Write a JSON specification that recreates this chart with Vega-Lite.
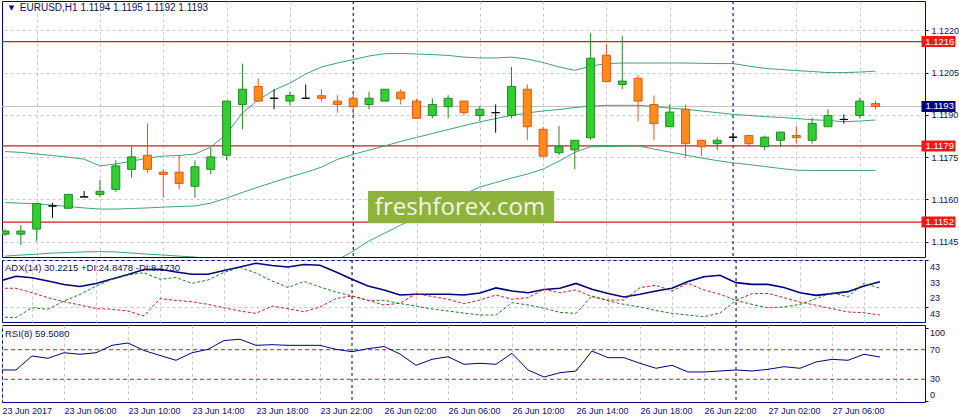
{
  "$schema": "https://vega.github.io/schema/vega-lite/v6.json",
  "padding": 0,
  "autosize": {"type": "pad"},
  "bounds": "flush",
  "spacing": 3,
  "background": "white",
  "config": {
    "view": {"stroke": "#000080", "strokeWidth": 1, "fill": "white"},
    "axis": {"labelFont": "Liberation Sans", "labelFontSize": 9, "labelColor": "#10105a", "domain": false, "tickColor": "#000080", "gridColor": "#c8c8c8", "gridDash": [3, 3], "gridWidth": 1, "title": null},
    "text": {"font": "Liberation Sans"}
  },
  "resolve": {"scale": {"x": "independent", "y": "independent"}},
  "datasets": {
    "bars": [
      {"i":0,"t":"23 Jun 02:00","o":1.11477,"h":1.11495,"l":1.11470,"c":1.11488,"bu":1.11770,"bm":1.11589,"bl":1.11399,"adx":29.8,"pdi":6.5,"mdi":25.1,"rsi":42.6},
      {"i":1,"t":"23 Jun 03:00","o":1.11477,"h":1.11509,"l":1.11438,"c":1.11488,"bu":1.11767,"bm":1.11587,"bl":1.11403,"adx":32.8,"pdi":6.2,"mdi":25.1,"rsi":42.6},
      {"i":2,"t":"23 Jun 04:00","o":1.11495,"h":1.11588,"l":1.11452,"c":1.11586,"bu":1.11761,"bm":1.11584,"bl":1.11406,"adx":31.9,"pdi":12.5,"mdi":22.2,"rsi":61.5},
      {"i":3,"t":"23 Jun 05:00","o":1.11577,"h":1.11588,"l":1.11535,"c":1.11577,"bu":1.11756,"bm":1.11580,"bl":1.11410,"adx":29.8,"pdi":11.5,"mdi":19.0,"rsi":58.4},
      {"i":4,"t":"23 Jun 06:00","o":1.11569,"h":1.11620,"l":1.11566,"c":1.11618,"bu":1.11750,"bm":1.11575,"bl":1.11412,"adx":27.5,"pdi":16.9,"mdi":16.4,"rsi":65.9},
      {"i":5,"t":"23 Jun 07:00","o":1.11609,"h":1.11630,"l":1.11609,"c":1.11609,"bu":1.11743,"bm":1.11570,"bl":1.11414,"adx":26.2,"pdi":21.1,"mdi":14.3,"rsi":63.8},
      {"i":6,"t":"23 Jun 08:00","o":1.11618,"h":1.11669,"l":1.11609,"c":1.11629,"bu":1.11719,"bm":1.11566,"bl":1.11415,"adx":28.2,"pdi":26.5,"mdi":12.0,"rsi":65.9},
      {"i":7,"t":"23 Jun 09:00","o":1.11636,"h":1.11739,"l":1.11627,"c":1.11719,"bu":1.11726,"bm":1.11566,"bl":1.11414,"adx":31.1,"pdi":30.9,"mdi":11.5,"rsi":75.9},
      {"i":8,"t":"23 Jun 10:00","o":1.11707,"h":1.11787,"l":1.11677,"c":1.11751,"bu":1.11736,"bm":1.11568,"bl":1.11410,"adx":34.0,"pdi":33.6,"mdi":10.4,"rsi":79.1},
      {"i":9,"t":"23 Jun 11:00","o":1.11757,"h":1.11870,"l":1.11695,"c":1.11707,"bu":1.11747,"bm":1.11570,"bl":1.11406,"adx":37.2,"pdi":35.1,"mdi":7.2,"rsi":68.9},
      {"i":10,"t":"23 Jun 12:00","o":1.11697,"h":1.11709,"l":1.11606,"c":1.11689,"bu":1.11754,"bm":1.11573,"bl":1.11403,"adx":37.3,"pdi":30.9,"mdi":18.4,"rsi":62.2},
      {"i":11,"t":"23 Jun 13:00","o":1.11697,"h":1.11758,"l":1.11636,"c":1.11657,"bu":1.11756,"bm":1.11575,"bl":1.11399,"adx":35.6,"pdi":32.0,"mdi":17.2,"rsi":55.7},
      {"i":12,"t":"23 Jun 14:00","o":1.11647,"h":1.11739,"l":1.11606,"c":1.11716,"bu":1.11761,"bm":1.11577,"bl":1.11396,"adx":34.1,"pdi":28.3,"mdi":16.4,"rsi":65.9},
      {"i":13,"t":"23 Jun 15:00","o":1.11707,"h":1.11784,"l":1.11689,"c":1.11751,"bu":1.11786,"bm":1.11587,"bl":1.11389,"adx":34.1,"pdi":30.4,"mdi":14.7,"rsi":70.5},
      {"i":14,"t":"23 Jun 16:00","o":1.11757,"h":1.11949,"l":1.11739,"c":1.11949,"bu":1.11832,"bm":1.11605,"bl":1.11378,"adx":36.5,"pdi":35.3,"mdi":12.5,"rsi":82.4},
      {"i":15,"t":"23 Jun 17:00","o":1.11937,"h":1.12082,"l":1.11849,"c":1.11991,"bu":1.11907,"bm":1.11625,"bl":1.11353,"adx":38.8,"pdi":38.5,"mdi":10.4,"rsi":84.1},
      {"i":16,"t":"23 Jun 18:00","o":1.12001,"h":1.12030,"l":1.11946,"c":1.11949,"bu":1.11953,"bm":1.11644,"bl":1.11339,"adx":41.2,"pdi":34.9,"mdi":8.9,"rsi":75.9},
      {"i":17,"t":"23 Jun 19:00","o":1.11959,"h":1.11991,"l":1.11920,"c":1.11959,"bu":1.11988,"bm":1.11662,"bl":1.11335,"adx":39.8,"pdi":29.8,"mdi":13.6,"rsi":76.8},
      {"i":18,"t":"23 Jun 20:00","o":1.11949,"h":1.11982,"l":1.11935,"c":1.11969,"bu":1.12013,"bm":1.11680,"bl":1.11339,"adx":38.8,"pdi":25.6,"mdi":11.9,"rsi":75.9},
      {"i":19,"t":"23 Jun 21:00","o":1.11959,"h":1.12008,"l":1.11959,"c":1.11959,"bu":1.12045,"bm":1.11696,"bl":1.11346,"adx":40.4,"pdi":29.5,"mdi":10.0,"rsi":75.9},
      {"i":20,"t":"23 Jun 22:00","o":1.11968,"h":1.11991,"l":1.11949,"c":1.11959,"bu":1.12070,"bm":1.11715,"bl":1.11360,"adx":39.9,"pdi":25.9,"mdi":13.0,"rsi":75.9},
      {"i":21,"t":"23 Jun 23:00","o":1.11949,"h":1.11970,"l":1.11908,"c":1.11937,"bu":1.12084,"bm":1.11742,"bl":1.11385,"adx":35.6,"pdi":22.7,"mdi":18.5,"rsi":70.5},
      {"i":22,"t":"26 Jun 00:00","o":1.11959,"h":1.11982,"l":1.11890,"c":1.11929,"bu":1.12096,"bm":1.11760,"bl":1.11417,"adx":30.9,"pdi":20.1,"mdi":20.1,"rsi":67.3},
      {"i":23,"t":"26 Jun 01:00","o":1.11937,"h":1.11982,"l":1.11920,"c":1.11959,"bu":1.12109,"bm":1.11775,"bl":1.11453,"adx":26.5,"pdi":17.3,"mdi":17.3,"rsi":71.4},
      {"i":24,"t":"26 Jun 02:00","o":1.11949,"h":1.11991,"l":1.11949,"c":1.11991,"bu":1.12117,"bm":1.11790,"bl":1.11481,"adx":24.0,"pdi":17.3,"mdi":14.3,"rsi":74.3},
      {"i":25,"t":"26 Jun 03:00","o":1.11981,"h":1.11991,"l":1.11937,"c":1.11957,"bu":1.12118,"bm":1.11806,"bl":1.11509,"adx":20.7,"pdi":15.3,"mdi":15.4,"rsi":64.2},
      {"i":26,"t":"26 Jun 04:00","o":1.11949,"h":1.11957,"l":1.11888,"c":1.11888,"bu":1.12116,"bm":1.11820,"bl":1.11536,"adx":21.2,"pdi":13.6,"mdi":21.6,"rsi":48.9},
      {"i":27,"t":"26 Jun 05:00","o":1.11898,"h":1.11959,"l":1.11888,"c":1.11937,"bu":1.12114,"bm":1.11834,"bl":1.11562,"adx":21.2,"pdi":11.7,"mdi":19.8,"rsi":57.0},
      {"i":28,"t":"26 Jun 06:00","o":1.11929,"h":1.11970,"l":1.11888,"c":1.11959,"bu":1.12111,"bm":1.11848,"bl":1.11591,"adx":21.2,"pdi":10.4,"mdi":18.0,"rsi":60.5},
      {"i":29,"t":"26 Jun 07:00","o":1.11949,"h":1.11949,"l":1.11898,"c":1.11908,"bu":1.12105,"bm":1.11862,"bl":1.11619,"adx":20.7,"pdi":9.1,"mdi":15.1,"rsi":50.3},
      {"i":30,"t":"26 Jun 08:00","o":1.11898,"h":1.11931,"l":1.11878,"c":1.11920,"bu":1.12102,"bm":1.11875,"bl":1.11644,"adx":22.0,"pdi":7.8,"mdi":17.5,"rsi":51.6},
      {"i":31,"t":"26 Jun 09:00","o":1.11908,"h":1.11937,"l":1.11837,"c":1.11908,"bu":1.12102,"bm":1.11887,"bl":1.11660,"adx":25.3,"pdi":7.8,"mdi":20.7,"rsi":50.3},
      {"i":32,"t":"26 Jun 10:00","o":1.11898,"h":1.12070,"l":1.11888,"c":1.12001,"bu":1.12105,"bm":1.11898,"bl":1.11676,"adx":23.3,"pdi":15.8,"mdi":18.0,"rsi":65.1},
      {"i":33,"t":"26 Jun 11:00","o":1.11991,"h":1.12008,"l":1.11810,"c":1.11858,"bu":1.12098,"bm":1.11907,"bl":1.11690,"adx":22.2,"pdi":14.3,"mdi":19.0,"rsi":42.6},
      {"i":34,"t":"26 Jun 12:00","o":1.11849,"h":1.11858,"l":1.11748,"c":1.11754,"bu":1.12086,"bm":1.11914,"bl":1.11708,"adx":24.3,"pdi":12.2,"mdi":24.4,"rsi":33.1},
      {"i":35,"t":"26 Jun 13:00","o":1.11766,"h":1.11860,"l":1.11757,"c":1.11787,"bu":1.12070,"bm":1.11919,"bl":1.11736,"adx":25.1,"pdi":9.5,"mdi":22.2,"rsi":38.9},
      {"i":36,"t":"26 Jun 14:00","o":1.11776,"h":1.11810,"l":1.11707,"c":1.11810,"bu":1.12058,"bm":1.11926,"bl":1.11767,"adx":28.2,"pdi":8.9,"mdi":24.0,"rsi":41.2},
      {"i":37,"t":"26 Jun 15:00","o":1.11819,"h":1.12190,"l":1.11810,"c":1.12101,"bu":1.12073,"bm":1.11931,"bl":1.11787,"adx":24.4,"pdi":20.1,"mdi":19.6,"rsi":68.2},
      {"i":38,"t":"26 Jun 16:00","o":1.12112,"h":1.12152,"l":1.12018,"c":1.12018,"bu":1.12082,"bm":1.11934,"bl":1.11788,"adx":21.7,"pdi":16.9,"mdi":17.5,"rsi":59.2},
      {"i":39,"t":"26 Jun 17:00","o":1.12008,"h":1.12180,"l":1.11991,"c":1.12020,"bu":1.12084,"bm":1.11934,"bl":1.11789,"adx":19.5,"pdi":14.7,"mdi":17.5,"rsi":59.2},
      {"i":40,"t":"26 Jun 18:00","o":1.12030,"h":1.12041,"l":1.11878,"c":1.11949,"bu":1.12084,"bm":1.11934,"bl":1.11790,"adx":21.2,"pdi":13.0,"mdi":25.5,"rsi":51.6},
      {"i":41,"t":"26 Jun 19:00","o":1.11937,"h":1.11969,"l":1.11810,"c":1.11869,"bu":1.12084,"bm":1.11930,"bl":1.11779,"adx":23.3,"pdi":10.7,"mdi":27.0,"rsi":44.9},
      {"i":42,"t":"26 Jun 20:00","o":1.11858,"h":1.11937,"l":1.11858,"c":1.11910,"bu":1.12084,"bm":1.11924,"bl":1.11768,"adx":25.1,"pdi":8.9,"mdi":23.3,"rsi":48.9},
      {"i":43,"t":"26 Jun 21:00","o":1.11920,"h":1.11937,"l":1.11748,"c":1.11798,"bu":1.12084,"bm":1.11920,"bl":1.11758,"adx":29.5,"pdi":7.8,"mdi":28.3,"rsi":39.9},
      {"i":44,"t":"26 Jun 22:00","o":1.11810,"h":1.11810,"l":1.11754,"c":1.11787,"bu":1.12083,"bm":1.11914,"bl":1.11747,"adx":32.5,"pdi":6.7,"mdi":24.0,"rsi":39.9},
      {"i":45,"t":"26 Jun 23:00","o":1.11798,"h":1.11821,"l":1.11775,"c":1.11810,"bu":1.12082,"bm":1.11908,"bl":1.11738,"adx":33.5,"pdi":9.1,"mdi":21.2,"rsi":41.2},
      {"i":46,"t":"27 Jun 00:00","o":1.11821,"h":1.11835,"l":1.11807,"c":1.11821,"bu":1.12082,"bm":1.11902,"bl":1.11730,"adx":28.7,"pdi":17.3,"mdi":17.3,"rsi":42.6},
      {"i":47,"t":"27 Jun 01:00","o":1.11827,"h":1.11827,"l":1.11787,"c":1.11798,"bu":1.12073,"bm":1.11898,"bl":1.11724,"adx":27.6,"pdi":14.7,"mdi":21.6,"rsi":41.2},
      {"i":48,"t":"27 Jun 02:00","o":1.11787,"h":1.11827,"l":1.11775,"c":1.11821,"bu":1.12065,"bm":1.11894,"bl":1.11717,"adx":27.6,"pdi":12.5,"mdi":21.8,"rsi":43.5},
      {"i":49,"t":"27 Jun 03:00","o":1.11810,"h":1.11839,"l":1.11787,"c":1.11839,"bu":1.12061,"bm":1.11891,"bl":1.11710,"adx":25.6,"pdi":13.0,"mdi":19.0,"rsi":47.0},
      {"i":50,"t":"27 Jun 04:00","o":1.11827,"h":1.11860,"l":1.11798,"c":1.11819,"bu":1.12057,"bm":1.11887,"bl":1.11704,"adx":22.2,"pdi":14.7,"mdi":16.2,"rsi":44.9},
      {"i":51,"t":"27 Jun 05:00","o":1.11810,"h":1.11890,"l":1.11798,"c":1.11870,"bu":1.12054,"bm":1.11883,"bl":1.11703,"adx":20.5,"pdi":18.4,"mdi":14.1,"rsi":53.4},
      {"i":52,"t":"27 Jun 06:00","o":1.11858,"h":1.11920,"l":1.11858,"c":1.11898,"bu":1.12050,"bm":1.11880,"bl":1.11703,"adx":21.6,"pdi":22.2,"mdi":11.9,"rsi":57.0},
      {"i":53,"t":"27 Jun 07:00","o":1.11884,"h":1.11902,"l":1.11869,"c":1.11884,"bu":1.12050,"bm":1.11876,"bl":1.11703,"adx":22.9,"pdi":19.6,"mdi":9.8,"rsi":55.7},
      {"i":54,"t":"27 Jun 08:00","o":1.11898,"h":1.11961,"l":1.11888,"c":1.11949,"bu":1.12052,"bm":1.11878,"bl":1.11703,"adx":26.5,"pdi":28.3,"mdi":9.3,"rsi":63.8},
      {"i":55,"t":"27 Jun 09:00","o":1.11940,"h":1.11950,"l":1.11920,"c":1.11930,"bu":1.12055,"bm":1.11882,"bl":1.11703,"adx":29.3,"pdi":25.1,"mdi":7.8,"rsi":60.1}
    ],
    "days": [{"i": 22, "t": "26 Jun 00:00"}, {"i": 46, "t": "27 Jun 00:00"}],
    "tags": [{"p": 1.1216, "k": "level"}, {"p": 1.1179, "k": "level"}, {"p": 1.1152, "k": "level"}, {"p": 1.1193, "k": "bid"}],
    "rsiLevels": [{"v": 70}, {"v": 30}],
    "adxScale": [{"v": 43, "label": "43"}, {"v": 33, "label": "33"}, {"v": 23, "label": "23"}, {"v": 13, "label": "43"}],
    "rsiScale": [{"v": 100, "label": "100", "pos": "top"}, {"v": 70, "label": "70", "pos": "mid"}, {"v": 30, "label": "30", "pos": "mid"}, {"v": 0, "label": "0", "pos": "bottom"}],
    "captions": [
      {"panel": "main", "label": "EURUSD,H1  1.1194 1.1195 1.1192 1.1193"},
      {"panel": "adx", "label": "ADX(14) 30.2215 +DI:24.8478 -DI:8.1730"},
      {"panel": "rsi", "label": "RSI(8) 59.5080"}
    ],
    "brand": [{"label": "freshforex.com"}]
  },
  "vconcat": [
    {
      "width": 923,
      "height": 256,
      "layer": [
        {
          "data": {"name": "tags"},
          "transform": [{"filter": "datum.k === 'bid'"}],
          "mark": {"type": "rule", "color": "#c0c0c0", "strokeWidth": 1},
          "encoding": {
            "y": {"field": "p", "type": "quantitative", "scale": {"domain": [1.11396, 1.12304], "nice": false, "zero": false},
              "axis": {"orient": "right", "values": [1.1145, 1.116, 1.1175, 1.119, 1.1205, 1.122], "format": ".4f", "grid": true, "tickSize": 3, "labelPadding": 3}}
          }
        },
        {
          "data": {"name": "days"},
          "mark": {"type": "rule", "color": "#000080", "strokeDash": [3, 3], "strokeWidth": 1},
          "encoding": {
            "x": {"field": "i", "type": "quantitative", "scale": {"domain": [0.125, 57.8125], "nice": false, "zero": false},
              "axis": {"values": [2,4,6,8,10,12,14,16,18,20,22,24,26,28,30,32,34,36,38,40,42,44,46,48,50,52,54,56], "grid": true, "labels": false, "ticks": false}}
          }
        },
        {
          "data": {"name": "tags"},
          "transform": [{"filter": "datum.k === 'level'"}],
          "mark": {"type": "rule", "color": "#c81e1e", "strokeWidth": 1.2},
          "encoding": {"y": {"field": "p", "type": "quantitative"}}
        },
        {
          "data": {"name": "bars"},
          "mark": {"type": "line", "color": "#3fa276", "strokeWidth": 1, "clip": true},
          "encoding": {"x": {"field": "i", "type": "quantitative"}, "y": {"field": "bu", "type": "quantitative"}}
        },
        {
          "data": {"name": "bars"},
          "mark": {"type": "line", "color": "#3fa276", "strokeWidth": 1, "clip": true},
          "encoding": {"x": {"field": "i", "type": "quantitative"}, "y": {"field": "bm", "type": "quantitative"}}
        },
        {
          "data": {"name": "bars"},
          "mark": {"type": "line", "color": "#3fa276", "strokeWidth": 1, "clip": true},
          "encoding": {"x": {"field": "i", "type": "quantitative"}, "y": {"field": "bl", "type": "quantitative"}}
        },
        {
          "data": {"name": "bars"},
          "mark": {"type": "rule", "strokeWidth": 1, "clip": true},
          "encoding": {
            "x": {"field": "i", "type": "quantitative"},
            "y": {"field": "l", "type": "quantitative"},
            "y2": {"field": "h"},
            "color": {"condition": [{"test": "datum.c > datum.o", "value": "#1f8a1f"}, {"test": "datum.c < datum.o", "value": "#e8561c"}], "value": "#000000"}
          }
        },
        {
          "data": {"name": "bars"},
          "mark": {"type": "bar", "width": 8, "strokeWidth": 1, "clip": true},
          "encoding": {
            "x": {"field": "i", "type": "quantitative"},
            "y": {"field": "o", "type": "quantitative"},
            "y2": {"field": "c"},
            "fill": {"condition": [{"test": "datum.c > datum.o", "value": "#32cd32"}, {"test": "datum.c < datum.o", "value": "#ff8c1a"}], "value": "#000000"},
            "stroke": {"condition": [{"test": "datum.c > datum.o", "value": "#1f8a1f"}, {"test": "datum.c < datum.o", "value": "#e0561a"}], "value": "#000000"}
          }
        },
        {
          "data": {"name": "brand"},
          "mark": {"type": "rect", "color": "#8db33d"},
          "encoding": {
            "x": {"datum": 22.9375, "type": "quantitative"},
            "x2": {"datum": 34.70},
            "y": {"datum": 1.11630, "type": "quantitative"},
            "y2": {"datum": 1.11516}
          }
        },
        {
          "data": {"name": "brand"},
          "mark": {"type": "text", "font": "Open Sans", "fontSize": 24, "color": "#f4f4ea", "align": "center", "baseline": "middle"},
          "encoding": {
            "x": {"datum": 28.75, "type": "quantitative"},
            "y": {"datum": 1.11571, "type": "quantitative"},
            "text": {"field": "label"}
          }
        },
        {
          "data": {"name": "captions"},
          "transform": [{"filter": "datum.panel === 'main'"}],
          "mark": {"type": "text", "font": "DejaVu Sans", "fontSize": 7, "color": "#000080", "align": "center", "baseline": "middle", "text": "▼"},
          "encoding": {
            "x": {"datum": 0.406, "type": "quantitative"},
            "y": {"datum": 1.12279, "type": "quantitative"}
          }
        },
        {
          "data": {"name": "captions"},
          "transform": [{"filter": "datum.panel === 'main'"}],
          "mark": {"type": "text", "fontSize": 10, "color": "#10105a", "align": "left", "baseline": "middle"},
          "encoding": {
            "x": {"datum": 0.9375, "type": "quantitative"},
            "y": {"datum": 1.12279, "type": "quantitative"},
            "text": {"field": "label"}
          }
        },
        {
          "data": {"name": "tags"},
          "mark": {"type": "tick", "orient": "horizontal", "thickness": 11, "size": 34, "opacity": 1},
          "encoding": {
            "x": {"datum": 58.98, "type": "quantitative"},
            "y": {"field": "p", "type": "quantitative"},
            "color": {"condition": {"test": "datum.k === 'bid'", "value": "#000080"}, "value": "#ee1a1a"}
          }
        },
        {
          "data": {"name": "tags"},
          "mark": {"type": "text", "fontSize": 9.5, "color": "#ffffff", "align": "center", "baseline": "middle"},
          "encoding": {
            "x": {"datum": 59.06, "type": "quantitative"},
            "y": {"field": "p", "type": "quantitative"},
            "text": {"field": "p", "type": "quantitative", "format": ".4f"}
          }
        }
      ]
    },
    {
      "width": 923,
      "height": 62,
      "layer": [
        {
          "data": {"name": "days"},
          "mark": {"type": "rule", "color": "#000080", "strokeDash": [3, 3], "strokeWidth": 1},
          "encoding": {
            "x": {"field": "i", "type": "quantitative", "scale": {"domain": [0.125, 57.8125], "nice": false, "zero": false},
              "axis": {"values": [2,4,6,8,10,12,14,16,18,20,22,24,26,28,30,32,34,36,38,40,42,44,46,48,50,52,54,56], "grid": true, "labels": false, "ticks": false}}
          }
        },
        {
          "data": {"name": "bars"},
          "mark": {"type": "line", "color": "#000080", "strokeWidth": 1.6, "clip": true},
          "encoding": {
            "x": {"field": "i", "type": "quantitative"},
            "y": {"field": "adx", "type": "quantitative", "scale": {"domain": [3.32, 43.32], "nice": false, "zero": false},
              "axis": {"orient": "right", "values": [13, 23, 33, 43], "grid": true, "tickSize": 3, "labels": false}}
          }
        },
        {
          "data": {"name": "bars"},
          "mark": {"type": "line", "color": "#1a7f1a", "strokeWidth": 1, "strokeDash": [3, 2], "clip": true},
          "encoding": {"x": {"field": "i", "type": "quantitative"}, "y": {"field": "pdi", "type": "quantitative"}}
        },
        {
          "data": {"name": "bars"},
          "mark": {"type": "line", "color": "#cc2020", "strokeWidth": 1, "strokeDash": [3, 2], "clip": true},
          "encoding": {"x": {"field": "i", "type": "quantitative"}, "y": {"field": "mdi", "type": "quantitative"}}
        },
        {
          "data": {"name": "adxScale"},
          "mark": {"type": "text", "fontSize": 9, "color": "#10105a", "align": "left", "baseline": "top", "dy": 3},
          "encoding": {
            "x": {"datum": 58.125, "type": "quantitative"},
            "y": {"field": "v", "type": "quantitative"},
            "text": {"field": "label"}
          }
        },
        {
          "data": {"name": "captions"},
          "transform": [{"filter": "datum.panel === 'adx'"}],
          "mark": {"type": "text", "fontSize": 9.5, "color": "#10105a", "align": "left", "baseline": "middle"},
          "encoding": {
            "x": {"datum": 0.3125, "type": "quantitative"},
            "y": {"datum": 38.2, "type": "quantitative"},
            "text": {"field": "label"}
          }
        }
      ]
    },
    {
      "width": 923,
      "height": 77,
      "layer": [
        {
          "data": {"name": "days"},
          "mark": {"type": "rule", "color": "#000080", "strokeDash": [3, 3], "strokeWidth": 1},
          "encoding": {
            "x": {"field": "i", "type": "quantitative", "scale": {"domain": [0.125, 57.8125], "nice": false, "zero": false},
              "axis": {"values": [0.125,2,4,6,8,10,12,14,16,18,20,22,24,26,28,30,32,34,36,38,40,42,44,46,48,50,52,54,56], "grid": true, "ticks": false, "labelAlign": "left", "labelPadding": 4, "labelOverlap": false, "labelFlush": false,
                "labelExpr": "datum.value < 1 ? '23 Jun 2017' : (datum.value % 4 == 0 ? ['', '23 Jun 06:00', '23 Jun 10:00', '23 Jun 14:00', '23 Jun 18:00', '23 Jun 22:00', '26 Jun 02:00', '26 Jun 06:00', '26 Jun 10:00', '26 Jun 14:00', '26 Jun 18:00', '26 Jun 22:00', '27 Jun 02:00', '27 Jun 06:00', ''][datum.value / 4] : '')"}}
          }
        },
        {
          "data": {"name": "rsiLevels"},
          "mark": {"type": "rule", "color": "#cc2020", "strokeDash": [4, 3], "strokeWidth": 1},
          "encoding": {
            "y": {"field": "v", "type": "quantitative", "scale": {"domain": [-0.7, 103.4], "nice": false, "zero": false},
              "axis": {"orient": "right", "values": [0, 30, 70, 100], "grid": false, "tickSize": 3, "labels": false}}
          }
        },
        {
          "data": {"name": "bars"},
          "mark": {"type": "line", "color": "#000080", "strokeWidth": 1, "clip": true},
          "encoding": {"x": {"field": "i", "type": "quantitative"}, "y": {"field": "rsi", "type": "quantitative"}}
        },
        {
          "data": {"name": "rsiScale"},
          "transform": [{"filter": "datum.pos === 'top'"}],
          "mark": {"type": "text", "fontSize": 9, "color": "#10105a", "align": "left", "baseline": "top", "dy": 1},
          "encoding": {
            "x": {"datum": 58.125, "type": "quantitative"},
            "y": {"field": "v", "type": "quantitative"},
            "text": {"field": "label"}
          }
        },
        {
          "data": {"name": "rsiScale"},
          "transform": [{"filter": "datum.pos === 'mid'"}],
          "mark": {"type": "text", "fontSize": 9, "color": "#10105a", "align": "left", "baseline": "middle"},
          "encoding": {
            "x": {"datum": 58.125, "type": "quantitative"},
            "y": {"field": "v", "type": "quantitative"},
            "text": {"field": "label"}
          }
        },
        {
          "data": {"name": "rsiScale"},
          "transform": [{"filter": "datum.pos === 'bottom'"}],
          "mark": {"type": "text", "fontSize": 9, "color": "#10105a", "align": "left", "baseline": "bottom", "dy": -1},
          "encoding": {
            "x": {"datum": 58.125, "type": "quantitative"},
            "y": {"field": "v", "type": "quantitative"},
            "text": {"field": "label"}
          }
        },
        {
          "data": {"name": "captions"},
          "transform": [{"filter": "datum.panel === 'rsi'"}],
          "mark": {"type": "text", "fontSize": 9.5, "color": "#10105a", "align": "left", "baseline": "middle"},
          "encoding": {
            "x": {"datum": 0.3125, "type": "quantitative"},
            "y": {"datum": 90.8, "type": "quantitative"},
            "text": {"field": "label"}
          }
        }
      ]
    }
  ]
}
